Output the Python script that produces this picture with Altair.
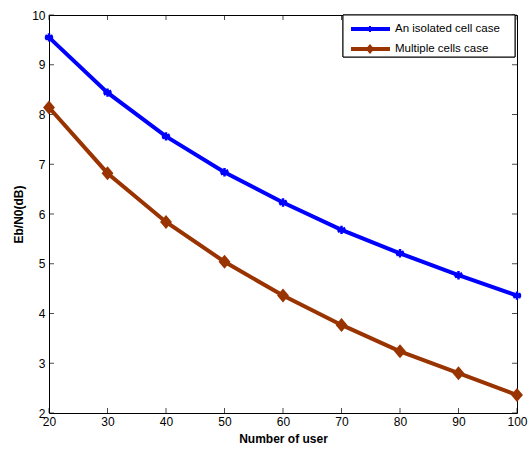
import altair as alt
import pandas as pd

users = [20, 30, 40, 50, 60, 70, 80, 90, 100]
isolated = [9.55, 8.44, 7.56, 6.84, 6.23, 5.68, 5.21, 4.77, 4.36]
multiple = [8.14, 6.82, 5.84, 5.04, 4.36, 3.77, 3.24, 2.80, 2.36]
series_names = ["An isolated cell case", "Multiple cells case"]
series_colors = ["#0000FF", "#993300"]
x_ticks = [20, 30, 40, 50, 60, 70, 80, 90, 100]
y_ticks = [2, 3, 4, 5, 6, 7, 8, 9, 10]

df = pd.DataFrame({
    "users": users + users,
    "value": isolated + multiple,
    "series": [series_names[0]] * len(users) + [series_names[1]] * len(users),
})
xt_df = pd.DataFrame({"t": x_ticks})
yt_df = pd.DataFrame({"t": y_ticks})
leg_df = pd.DataFrame({"series": series_names})

W, H = 468, 398
FONT = "Liberation Sans"

ASTERISK = "M0,-1L0,1M-0.87,-0.5L0.87,0.5M-0.87,0.5L0.87,-0.5M-1,0L1,0"
DIAMOND = "M0,-1L0.85,0L0,1L-0.85,0Z"

xs = alt.Scale(domain=[20, 100], nice=False, zero=False)
ys = alt.Scale(domain=[2, 10], nice=False, zero=False)
cscale = alt.Scale(domain=series_names, range=series_colors)
color = alt.Color("series:N", scale=cscale, legend=None)

main_x = alt.Axis(orient="bottom", values=x_ticks, ticks=False, domain=False,
                  grid=False, labelFont=FONT, labelFontSize=12, labelColor="black",
                  labelPadding=3, labelFlush=False, labelOverlap=False,
                  title="Number of user", titleFont=FONT, titleFontSize=12,
                  titleFontWeight="bold", titleColor="black", titlePadding=6)
main_y = alt.Axis(orient="left", values=y_ticks, ticks=False, domain=False,
                  grid=False, labelFont=FONT, labelFontSize=12, labelColor="black",
                  labelPadding=4, labelOverlap=False,
                  title="Eb/N0(dB)", titleFont=FONT, titleFontSize=12,
                  titleFontWeight="bold", titleColor="black", titlePadding=6)

lines = alt.Chart(df).mark_line(strokeWidth=4).encode(
    x=alt.X("users:Q", scale=xs, axis=main_x),
    y=alt.Y("value:Q", scale=ys, axis=main_y),
    color=color,
)

blue_pts = alt.Chart(df).transform_filter(
    alt.datum.series == series_names[0]
).mark_point(shape=ASTERISK, filled=False, size=70, strokeWidth=2.5, opacity=1).encode(
    x=alt.X("users:Q", scale=xs),
    y=alt.Y("value:Q", scale=ys),
    color=color,
)

brown_pts = alt.Chart(df).transform_filter(
    alt.datum.series == series_names[1]
).mark_point(shape=DIAMOND, filled=True, size=196, opacity=1).encode(
    x=alt.X("users:Q", scale=xs),
    y=alt.Y("value:Q", scale=ys),
    color=color,
)

# inward ticks on all four sides
tick_style = dict(color="black", thickness=1, size=5)
t_bottom = alt.Chart(xt_df).mark_tick(**tick_style).encode(
    x=alt.X("t:Q", scale=xs), y=alt.value(H - 2.5))
t_top = alt.Chart(xt_df).mark_tick(**tick_style).encode(
    x=alt.X("t:Q", scale=xs), y=alt.value(2.5))
t_left = alt.Chart(yt_df).mark_tick(**tick_style).encode(
    y=alt.Y("t:Q", scale=ys), x=alt.value(2.5))
t_right = alt.Chart(yt_df).mark_tick(**tick_style).encode(
    y=alt.Y("t:Q", scale=ys), x=alt.value(W - 2.5))

# legend box (top-right corner of plot)
LX0, LX1, LY0, LY1 = 294, 466, 0, 42
leg_box = alt.Chart(leg_df).mark_rect(fill="white", stroke="black", strokeWidth=1).encode(
    x=alt.value(LX0), x2=alt.value(LX1), y=alt.value(LY0), y2=alt.value(LY1))

leg_layers = [leg_box]
marker_shapes = [ASTERISK, DIAMOND]
marker_sizes = [36, 100]
marker_filled = [False, True]
for i, name in enumerate(series_names):
    yy = 14 + 20 * i
    base = alt.Chart(leg_df).transform_filter(alt.datum.series == name)
    leg_layers.append(base.mark_rule(strokeWidth=4).encode(
        x=alt.value(LX0 + 8), x2=alt.value(LX0 + 47), y=alt.value(yy), color=color))
    leg_layers.append(base.mark_point(shape=marker_shapes[i], filled=marker_filled[i],
                                      size=marker_sizes[i], strokeWidth=2, opacity=1).encode(
        x=alt.value(LX0 + 27), y=alt.value(yy), color=color))
    leg_layers.append(base.mark_text(align="left", baseline="middle", font=FONT,
                                     fontSize=11.5, color="black").encode(
        x=alt.value(LX0 + 52), y=alt.value(yy), text="series:N"))

chart = alt.layer(t_bottom, t_top, t_left, t_right, lines, blue_pts, brown_pts,
                  *leg_layers).properties(
    width=W, height=H,
    autosize=alt.AutoSizeParams(type="none"),
    padding={"left": 49, "top": 15, "right": 14, "bottom": 37},
    background="white",
).configure_view(stroke="black", strokeWidth=1)

chart.save("out.html", embed_options={"renderer": "svg", "actions": False})
